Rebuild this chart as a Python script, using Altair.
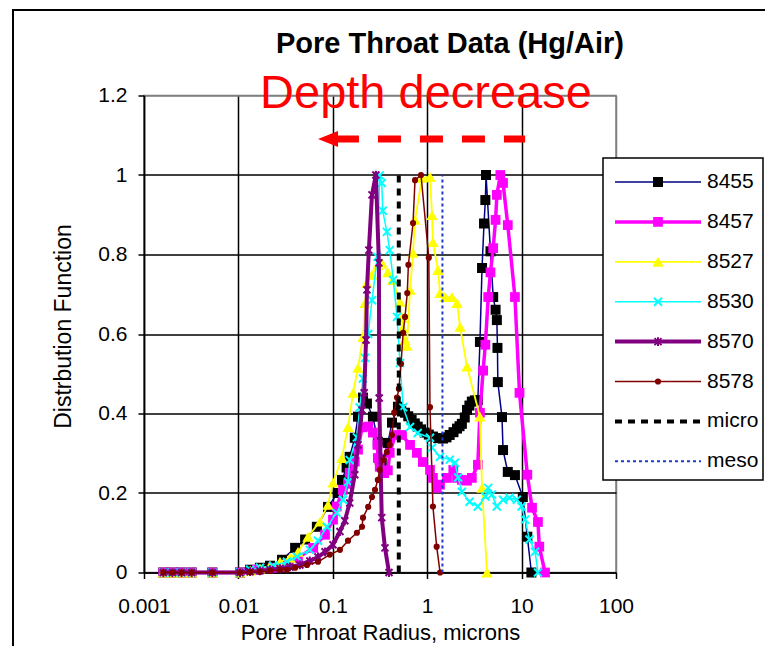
import altair as alt
import pandas as pd

FONT = "Liberation Sans"

# ---------------- data ----------------
low_x = [0.0016, 0.002, 0.0025, 0.0032, 0.0053]
low_y = [0, 0, 0, 0, 0]

x_8455 = low_x + [0.0104, 0.0133, 0.0169, 0.0216, 0.029, 0.0399, 0.0509, 0.0678, 0.0889, 0.113,
                  0.125, 0.14, 0.151, 0.171, 0.185, 0.209, 0.23, 0.266, 0.30, 0.314,
                  0.33, 0.383, 0.424, 0.49, 0.53, 0.582, 0.63, 0.684, 0.74, 0.793,
                  0.86, 0.942, 1.04, 1.15, 1.3, 1.47, 1.6, 1.73, 1.9, 2.07,
                  2.2, 2.33, 2.5, 2.64, 2.8, 2.97, 3.2, 3.44, 3.62, 3.81,
                  4.0, 4.13, 4.2, 4.68, 5.0, 5.3, 5.47, 5.55, 5.6, 6.2,
                  6.36, 7.14, 8.5, 10.3, 11.5, 12.7]
y_8455 = low_y + [0, 0.007, 0.012, 0.017, 0.032, 0.062, 0.083, 0.115, 0.165, 0.2,
                  0.233, 0.264, 0.291, 0.339, 0.392, 0.44, 0.425, 0.392, 0.329, 0.284,
                  0.276, 0.326, 0.377, 0.417, 0.41, 0.402, 0.393, 0.384, 0.375, 0.367,
                  0.36, 0.352, 0.347, 0.342, 0.338, 0.337, 0.34, 0.346, 0.353, 0.362,
                  0.368, 0.374, 0.39, 0.409, 0.42, 0.43, 0.433, 0.434, 0.58, 0.766,
                  0.878, 0.937, 1.0, 0.808, 0.693, 0.661, 0.635, 0.565, 0.479, 0.391,
                  0.308, 0.253, 0.245, 0.19, 0.09, 0.0]

x_8457 = low_x + [0.0104, 0.0157, 0.0233, 0.0326, 0.0428, 0.062, 0.0827, 0.1005, 0.11, 0.128,
                  0.145, 0.151, 0.171, 0.185, 0.204, 0.237, 0.266, 0.297, 0.30, 0.314,
                  0.35, 0.383, 0.401, 0.46, 0.541, 0.658, 0.777, 0.899, 1.071, 1.15,
                  1.26, 1.367, 1.62, 1.89, 2.07, 2.33, 2.64, 2.97, 3.44, 3.62,
                  3.91, 4.13, 4.43, 4.68, 5.0, 5.3, 5.47, 5.95, 6.36, 7.14,
                  8.5, 9.5, 11.5, 12.9, 14.9, 15.4, 17.7]
y_8457 = low_y + [0, 0.007, 0.012, 0.02, 0.037, 0.062, 0.095, 0.133, 0.166, 0.208,
                  0.223, 0.251, 0.279, 0.309, 0.365, 0.367, 0.352, 0.321, 0.288, 0.266,
                  0.25, 0.257, 0.301, 0.346, 0.346, 0.321, 0.301, 0.278, 0.258, 0.238,
                  0.213, 0.221, 0.238, 0.258, 0.238, 0.233, 0.231, 0.238, 0.271, 0.402,
                  0.508, 0.573, 0.693, 0.755, 0.816, 0.887, 0.95, 1.0, 0.98, 0.874,
                  0.693, 0.452, 0.246, 0.163, 0.127, 0.065, 0.0]

x_8527 = low_x + [0.0104, 0.0133, 0.0169, 0.0216, 0.0276, 0.0352, 0.0428, 0.0546, 0.0731, 0.0889,
                  0.1005, 0.125, 0.145, 0.164, 0.185, 0.209, 0.22, 0.23, 0.26, 0.30,
                  0.33, 0.383, 0.43, 0.515, 0.541, 0.55, 0.582, 0.61, 0.658, 0.708,
                  0.743, 0.881, 1.071, 1.125, 1.151, 1.30, 1.367, 1.545, 1.83, 2.07,
                  2.23, 2.64, 3.62, 3.81, 4.30]
y_8527 = low_y + [0, 0.005, 0.01, 0.017, 0.027, 0.037, 0.052, 0.09, 0.128, 0.17,
                  0.226, 0.288, 0.366, 0.452, 0.515, 0.593, 0.678, 0.728, 0.749, 0.774,
                  0.78, 0.755, 0.736, 0.681, 0.641, 0.615, 0.585, 0.57, 0.711, 0.804,
                  0.887, 0.993, 0.995, 0.899, 0.831, 0.761, 0.703, 0.693, 0.693, 0.678,
                  0.618, 0.518, 0.392, 0.213, 0.0]

x_8530 = low_x + [0.0104, 0.0133, 0.0169, 0.0233, 0.0326, 0.0416, 0.0571, 0.0697, 0.0866, 0.110,
                  0.128, 0.145, 0.151, 0.18, 0.193, 0.209, 0.22, 0.237, 0.26, 0.297,
                  0.314, 0.33, 0.338, 0.374, 0.401, 0.437, 0.479, 0.515, 0.556, 0.658,
                  0.793, 1.071, 1.125, 1.367, 1.735, 1.97, 2.13, 2.33, 2.81, 3.44,
                  4.13, 4.43, 4.85, 5.47, 6.36, 7.44, 8.9, 10.0, 10.9, 12.1,
                  13.9, 14.9]
y_8530 = low_y + [0, 0.007, 0.012, 0.017, 0.027, 0.04, 0.057, 0.08, 0.115, 0.15,
                  0.183, 0.228, 0.283, 0.34, 0.415, 0.488, 0.54, 0.6, 0.685, 0.794,
                  0.999, 0.98, 0.91, 0.857, 0.811, 0.736, 0.643, 0.527, 0.416, 0.366,
                  0.351, 0.339, 0.314, 0.291, 0.284, 0.276, 0.239, 0.203, 0.178, 0.166,
                  0.191, 0.213, 0.196, 0.166, 0.183, 0.188, 0.183, 0.166, 0.133, 0.083,
                  0.052, 0.0]

x_8570 = low_x + [0.0104, 0.0133, 0.0169, 0.0216, 0.0276, 0.0352, 0.0448, 0.0571, 0.0697, 0.0827,
                  0.1005, 0.119, 0.134, 0.151, 0.171, 0.185, 0.204, 0.215, 0.225, 0.230,
                  0.241, 0.260, 0.286, 0.308, 0.31, 0.33, 0.357, 0.394]
y_8570 = low_y + [0, 0.002, 0.004, 0.007, 0.01, 0.014, 0.019, 0.029, 0.039, 0.052,
                  0.07, 0.103, 0.13, 0.175, 0.246, 0.321, 0.409, 0.452, 0.585, 0.711,
                  0.811, 0.95, 1.0, 0.779, 0.439, 0.138, 0.062, 0.0]

x_8578 = low_x + [0.0104, 0.0133, 0.0169, 0.0216, 0.0276, 0.0326, 0.0399, 0.0533, 0.0697, 0.093,
                  0.119, 0.145, 0.18, 0.204, 0.209, 0.237, 0.26, 0.28, 0.30, 0.314,
                  0.344, 0.374, 0.401, 0.424, 0.447, 0.479, 0.501, 0.528, 0.556, 0.582,
                  0.615, 0.632, 0.708, 0.743, 0.86, 1.04, 1.07, 1.15, 1.26, 1.37]
y_8578 = low_y + [0, 0.001, 0.002, 0.004, 0.007, 0.007, 0.012, 0.019, 0.027, 0.045,
                  0.057, 0.08, 0.1, 0.115, 0.138, 0.165, 0.19, 0.208, 0.233, 0.258,
                  0.283, 0.303, 0.321, 0.346, 0.402, 0.44, 0.462, 0.525, 0.603, 0.643,
                  0.703, 0.774, 0.879, 0.987, 1.0, 0.792, 0.416, 0.166, 0.065, 0.0]

series_names = ["8455", "8457", "8527", "8530", "8570", "8578"]
series_x = [x_8455, x_8457, x_8527, x_8530, x_8570, x_8578]
series_y = [y_8455, y_8457, y_8527, y_8530, y_8570, y_8578]

boundary_names = ["micro", "meso"]
boundary_x = [0.5, 1.45]
boundary_top = 1.0

x_ticks = [0.001, 0.01, 0.1, 1, 10, 100]
y_ticks = [0, 0.2, 0.4, 0.6, 0.8, 1.0, 1.2]

chart_title = "Pore Throat Data (Hg/Air)"
x_title = "Pore Throat Radius, microns"
y_title = "Distrbution Function"
annotation_text = "Depth decrease"
annotation_x = [0.97]
annotation_y = [1.168]
arrow_x = [0.108, 10.9]
arrow_y = [1.0905, 1.0905]
arrow_head_x = [0.0889]
arrow_head_y = [1.0905]

# ---------------- styles ----------------
X_PATH = "M-1,-1L1,1M-1,1L1,-1"
AST_PATH = "M-1,-1L1,1M-1,1L1,-1M0,-1.25L0,1.25"
STYLE = {
    "8455": dict(line="#000080", lw=1.5, shape="square", mcolor="#000000", size=100, filled=True, sw=1),
    "8457": dict(line="#FF00FF", lw=3.5, shape="square", mcolor="#FF00FF", size=95, filled=True, sw=1),
    "8527": dict(line="#FFFF00", lw=1.8, shape="triangle-up", mcolor="#FFFF00", size=130, filled=True, sw=1),
    "8530": dict(line="#00FFFF", lw=1.5, shape=X_PATH, mcolor="#00FFFF", size=64, filled=False, sw=2),
    "8570": dict(line="#800080", lw=4, shape=AST_PATH, mcolor="#800080", size=49, filled=False, sw=2),
    "8578": dict(line="#800000", lw=1.5, shape="circle", mcolor="#800000", size=38, filled=True, sw=1),
}
BSTYLE = {
    "micro": dict(color="#000000", lw=4, dash=[7, 6]),
    "meso": dict(color="#1c39d0", lw=2, dash=[3, 3]),
}

xscale = alt.Scale(type="log", domain=[0.001, 100], nice=False)
yscale = alt.Scale(domain=[0, 1.2], nice=False, zero=False)

xaxis = alt.Axis(
    values=x_ticks, format="~g", title=x_title,
    grid=True,
    gridColor={"condition": {"test": "datum.value >= 99", "value": "#808080"}, "value": "#000000"},
    gridWidth=1.5, domainColor="#000000", domainWidth=1.5,
    tickColor="#000000", tickSize=6, tickWidth=1.5,
    labelFont=FONT, labelFontSize=21, labelColor="#000000", labelPadding=17,
    labelFlush=False, labelOverlap=False,
    titleFont=FONT, titleFontSize=22, titleFontWeight="normal", titleColor="#000000",
    titleX=236, titleY=67, titleBaseline="alphabetic", titleAlign="center",
)
yaxis = alt.Axis(
    values=y_ticks, format="~g", title=y_title,
    grid=True,
    gridColor={"condition": {"test": "datum.value >= 1.19", "value": "#808080"}, "value": "#000000"},
    gridWidth=1.5, domainColor="#000000", domainWidth=1.5,
    tickColor="#000000", tickSize=6, tickWidth=1.5,
    labelFont=FONT, labelFontSize=21, labelColor="#000000", labelPadding=11,
    labelFlush=False, labelOverlap=False,
    titleFont=FONT, titleFontSize=23, titleFontWeight="normal", titleColor="#000000",
    titleAngle=270, titleX=-74, titleY=230.5, titleBaseline="alphabetic", titleAlign="center",
)

X = alt.X("x:Q", scale=xscale, axis=xaxis)
Y = alt.Y("y:Q", scale=yscale, axis=yaxis)

layers = []

# outer frame
frame_df = pd.DataFrame({"k": [0]})
layers.append(
    alt.Chart(frame_df).mark_rect(fillOpacity=0, stroke="#000000", strokeWidth=2).encode(
        x=alt.value(-131), x2=alt.value(700), y=alt.value(-85.5), y2=alt.value(600)
    )
)

# data series
for name, xs, ys in zip(series_names, series_x, series_y):
    st = STYLE[name]
    df = pd.DataFrame({"x": xs, "y": ys, "i": list(range(len(xs)))})
    base = alt.Chart(df)
    layers.append(
        base.mark_line(color=st["line"], strokeWidth=st["lw"], clip=False).encode(
            x=X, y=Y, order="i:Q"
        )
    )
    if st["filled"]:
        pm = base.mark_point(shape=st["shape"], filled=True, color=st["mcolor"],
                             size=st["size"], opacity=1, clip=False)
    else:
        pm = base.mark_point(shape=st["shape"], filled=False, color=st["mcolor"],
                             size=st["size"], opacity=1, strokeWidth=st["sw"], clip=False)
    layers.append(pm.encode(x=X, y=Y))

# micro / meso boundaries
for name, bx in zip(boundary_names, boundary_x):
    st = BSTYLE[name]
    bdf = pd.DataFrame({"x": [bx], "y": [0], "y2": [boundary_top]})
    layers.append(
        alt.Chart(bdf).mark_rule(color=st["color"], strokeWidth=st["lw"], strokeDash=st["dash"]).encode(
            x=X, y=Y, y2="y2:Q"
        )
    )

# annotation: Depth decrease + dashed arrow
adf = pd.DataFrame({"x": annotation_x, "y": annotation_y, "t": [annotation_text]})
layers.append(
    alt.Chart(adf).mark_text(font=FONT, fontSize=47, color="#FF0000", align="center",
                             baseline="alphabetic").encode(x=X, y=Y, text="t:N")
)
arr_df = pd.DataFrame({"x": arrow_x, "y": arrow_y})
layers.append(
    alt.Chart(arr_df).mark_line(color="#FF0000", strokeWidth=7, strokeDash=[23, 19],
                                strokeCap="butt").encode(x=X, y=Y)
)
head_df = pd.DataFrame({"x": arrow_head_x, "y": arrow_head_y})
layers.append(
    alt.Chart(head_df).mark_point(shape="M-1,0L1,-0.8L1,0.8Z", filled=True, color="#FF0000",
                                  size=400, opacity=1).encode(x=X, y=Y)
)

# legend box
layers.append(
    alt.Chart(frame_df).mark_rect(fill="#FFFFFF", stroke="#000000", strokeWidth=1.5).encode(
        x=alt.value(459), x2=alt.value(619), y=alt.value(62.5), y2=alt.value(384.5)
    )
)
LEG_TOP = 86.5
LEG_STEP = 39.9
for i, name in enumerate(series_names + boundary_names):
    ly = LEG_TOP + i * LEG_STEP
    ldf = pd.DataFrame({"label": [name]})
    lb = alt.Chart(ldf)
    if name in STYLE:
        st = STYLE[name]
        layers.append(lb.mark_rule(color=st["line"], strokeWidth=st["lw"]).encode(
            x=alt.value(471), x2=alt.value(557), y=alt.value(ly)))
        if st["filled"]:
            pm = lb.mark_point(shape=st["shape"], filled=True, color=st["mcolor"],
                               size=st["size"], opacity=1)
        else:
            pm = lb.mark_point(shape=st["shape"], filled=False, color=st["mcolor"],
                               size=st["size"], opacity=1, strokeWidth=st["sw"])
        layers.append(pm.encode(x=alt.value(514), y=alt.value(ly)))
    else:
        st = BSTYLE[name]
        layers.append(lb.mark_rule(color=st["color"], strokeWidth=st["lw"], strokeDash=st["dash"]).encode(
            x=alt.value(471), x2=alt.value(557), y=alt.value(ly)))
    layers.append(lb.mark_text(font=FONT, fontSize=21, color="#000000", align="left",
                               baseline="middle").encode(
        x=alt.value(563), y=alt.value(ly), text="label:N"))

# chart title
tdf = pd.DataFrame({"t": [chart_title]})
layers.append(
    alt.Chart(tdf).mark_text(font=FONT, fontSize=29, fontWeight="bold", color="#000000",
                             align="center", baseline="alphabetic").encode(
        x=alt.value(306), y=alt.value(-42.5), text="t:N")
)

chart = alt.layer(*layers).properties(
    width=472,
    height=477,
    padding={"left": 136, "top": 87.5, "right": 149, "bottom": 73.5},
    autosize=alt.AutoSizeParams(type="none"),
    background="#FFFFFF",
).configure_view(stroke="#808080", strokeWidth=1.5)

chart.save("out.html", embed_options={"renderer": "svg", "actions": False})
